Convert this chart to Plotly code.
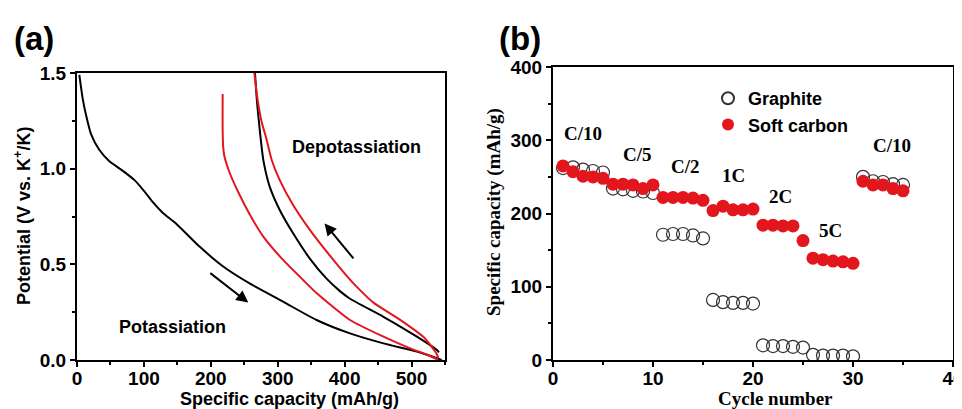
import plotly.graph_objects as go

# ---------------- Panel (a) data: voltage profiles ----------------
black_dis_x = [3.5, 8.5, 13.5, 21, 33, 48, 68, 86, 101, 113, 128, 149, 184, 218, 258, 308, 358, 408, 458, 508, 538, 545]
black_dis_y = [1.49, 1.366, 1.28, 1.18, 1.10, 1.04, 0.99, 0.94, 0.88, 0.826, 0.77, 0.71, 0.59, 0.49, 0.40, 0.305, 0.209, 0.139, 0.087, 0.044, 0.009, 0.0]

black_chg_x = [541, 538, 508, 458, 408, 393, 373, 348, 323, 303, 288, 278.5, 273.5, 269, 266]
black_chg_y = [0.04, 0.052, 0.122, 0.226, 0.32, 0.36, 0.425, 0.53, 0.662, 0.784, 0.906, 1.045, 1.19, 1.35, 1.5]

red_dis_x = [217.7, 217.7, 218.5, 220, 228, 242, 258.6, 278.5, 308, 338, 358, 408, 458, 498, 525, 540]
red_dis_y = [1.39, 1.20, 1.113, 1.07, 0.98, 0.87, 0.758, 0.645, 0.523, 0.418, 0.35, 0.209, 0.122, 0.061, 0.025, 0.0]

red_chg_x = [540, 537, 518, 483, 443, 423, 403, 378, 348, 323, 303, 291, 283, 276, 270, 265]
red_chg_y = [0.01, 0.035, 0.12, 0.21, 0.30, 0.365, 0.44, 0.545, 0.68, 0.81, 0.94, 1.045, 1.157, 1.244, 1.36, 1.5]

# ---------------- Panel (b) data: rate capability ----------------
cycles = list(range(1, 36))
graphite = [262, 263, 260, 258, 256, 234, 233, 231, 230, 228, 171, 172, 172, 170, 166,
            82, 79, 78, 78, 77, 20, 19, 19, 18, 17, 7, 6, 6, 6, 5, 250, 244, 243, 240, 239]
soft_carbon = [265, 257, 251, 250, 248, 240, 240, 239, 234, 239, 222, 222, 222, 221, 218,
               204, 210, 205, 205, 206, 184, 184, 183, 183, 163, 139, 137, 135, 134, 132,
               244, 239, 239, 234, 231]
rate_labels = ["C/10", "C/5", "C/2", "1C", "2C", "5C", "C/10"]
rate_x = [3.0, 8.4, 13.2, 18.0, 22.7, 27.7, 33.9]
rate_y = [309, 280, 264, 252, 223, 177, 293]

RED = "#e3161d"
SANS = "Liberation Sans"
SERIF = "Liberation Serif"

fig = go.Figure()

for xs, ys, col in [(black_dis_x, black_dis_y, "black"), (black_chg_x, black_chg_y, "black"),
                    (red_dis_x, red_dis_y, RED), (red_chg_x, red_chg_y, RED)]:
    fig.add_trace(go.Scatter(x=xs, y=ys, mode="lines", line=dict(color=col, width=2, shape="spline", smoothing=0.6),
                             showlegend=False, xaxis="x", yaxis="y"))

fig.add_trace(go.Scatter(x=cycles, y=graphite, mode="markers", name="Graphite",
                         marker=dict(symbol="circle-open", size=13, color="#333333", line=dict(width=1.2)),
                         xaxis="x2", yaxis="y2"))
fig.add_trace(go.Scatter(x=cycles, y=soft_carbon, mode="markers", name="Soft carbon",
                         marker=dict(symbol="circle", size=13, color=RED, line=dict(width=0)),
                         xaxis="x2", yaxis="y2"))

# page body has an 8px margin: work in window pixels and shift
OFF = 8
W, H = 962 - OFF, 409 - OFF
def px(x): return (x - OFF) / W
def py(y): return 1 - (y - OFF) / H

axis_common = dict(showline=True, linecolor="black", linewidth=2, mirror=True, ticks="outside",
                   ticklen=5, tickwidth=2, tickcolor="black", showgrid=False, zeroline=False,
                   automargin=False)
minor_common = dict(ticks="outside", ticklen=3, tickwidth=1.5, tickcolor="black")

fig.update_layout(
    width=W, height=H, margin=dict(l=0, r=0, t=0, b=0, autoexpand=False),
    paper_bgcolor="white", plot_bgcolor="white",
    xaxis=dict(domain=[px(77), px(445)], range=[0, 550], dtick=100, anchor="y", ticklabelstandoff=-5,
               tickfont=dict(family=SANS, size=19, color="black", weight="bold"),
               minor=dict(dtick=50, **minor_common), **axis_common),
    yaxis=dict(domain=[py(360), py(73)], range=[0, 1.5], dtick=0.5, tickformat=".1f", anchor="x",
               tickfont=dict(family=SANS, size=19, color="black", weight="bold"),
               minor=dict(dtick=0.25, **minor_common), **axis_common),
    xaxis2=dict(domain=[px(553), px(953)], range=[0, 40], dtick=10, anchor="y2", ticklabelstandoff=-5,
                ticklabeloverflow="allow",
                tickfont=dict(family=SANS, size=19, color="black", weight="bold"),
                minor=dict(dtick=5, **minor_common), **axis_common),
    yaxis2=dict(domain=[py(360), py(67)], range=[0, 400], dtick=100, anchor="x2",
                tickfont=dict(family=SANS, size=19, color="black", weight="bold"),
                minor=dict(dtick=50, **minor_common), **axis_common),
    legend=dict(x=px(708), y=py(80), xanchor="left", yanchor="top", bgcolor="rgba(0,0,0,0)",
                font=dict(family=SANS, size=18, color="black", weight="bold"), tracegroupgap=0,
                itemsizing="constant"),
)

def note(text, x, y, size, family=SANS, angle=0, xref="paper", yref="paper", xanchor="center"):
    return dict(text=text, x=x, y=y, xref=xref, yref=yref, xanchor=xanchor, yanchor="middle",
                showarrow=False, textangle=angle, font=dict(family=family, size=size, color="black"))

ann = []
# panel labels
ann.append(note("<b>(a)</b>", px(12), py(39), 33, xanchor="left"))
ann.append(note("<b>(b)</b>", px(497), py(39), 33, xanchor="left"))
# axis titles
ann.append(note("<b>Specific capacity (mAh/g)</b>", px(289), py(399), 18))
ann.append(note("<b>Potential (V vs. K<sup>+</sup>/K)</b>", px(22), py(216), 18, angle=-90))
ann.append(note("<b>Cycle number</b>", px(775), py(398), 19, family=SERIF))
ann.append(note("<b>Specific capacity (mAh/g)</b>", px(494), py(212), 19, family=SERIF, angle=-90))
# panel (a) texts
ann.append(note("<b>Depotassiation</b>", 417, 1.115, 18, xref="x", yref="y"))
ann.append(note("<b>Potassiation</b>", 143, 0.17, 18, xref="x", yref="y"))
# arrows
ann.append(dict(x=256, y=0.30, ax=197, ay=0.46, xref="x", yref="y", axref="x", ayref="y", text="",
                showarrow=True, arrowhead=2, arrowsize=1.2, arrowwidth=2, arrowcolor="black"))
ann.append(dict(x=370, y=0.714, ax=415, ay=0.523, xref="x", yref="y", axref="x", ayref="y", text="",
                showarrow=True, arrowhead=2, arrowsize=1.2, arrowwidth=2, arrowcolor="black"))
# rate labels
for t, x, y in zip(rate_labels, rate_x, rate_y):
    ann.append(note(f"<b>{t}</b>", x, y, 19, family=SERIF, xref="x2", yref="y2"))

fig.update_layout(annotations=ann)
fig.write_html("out.html")
